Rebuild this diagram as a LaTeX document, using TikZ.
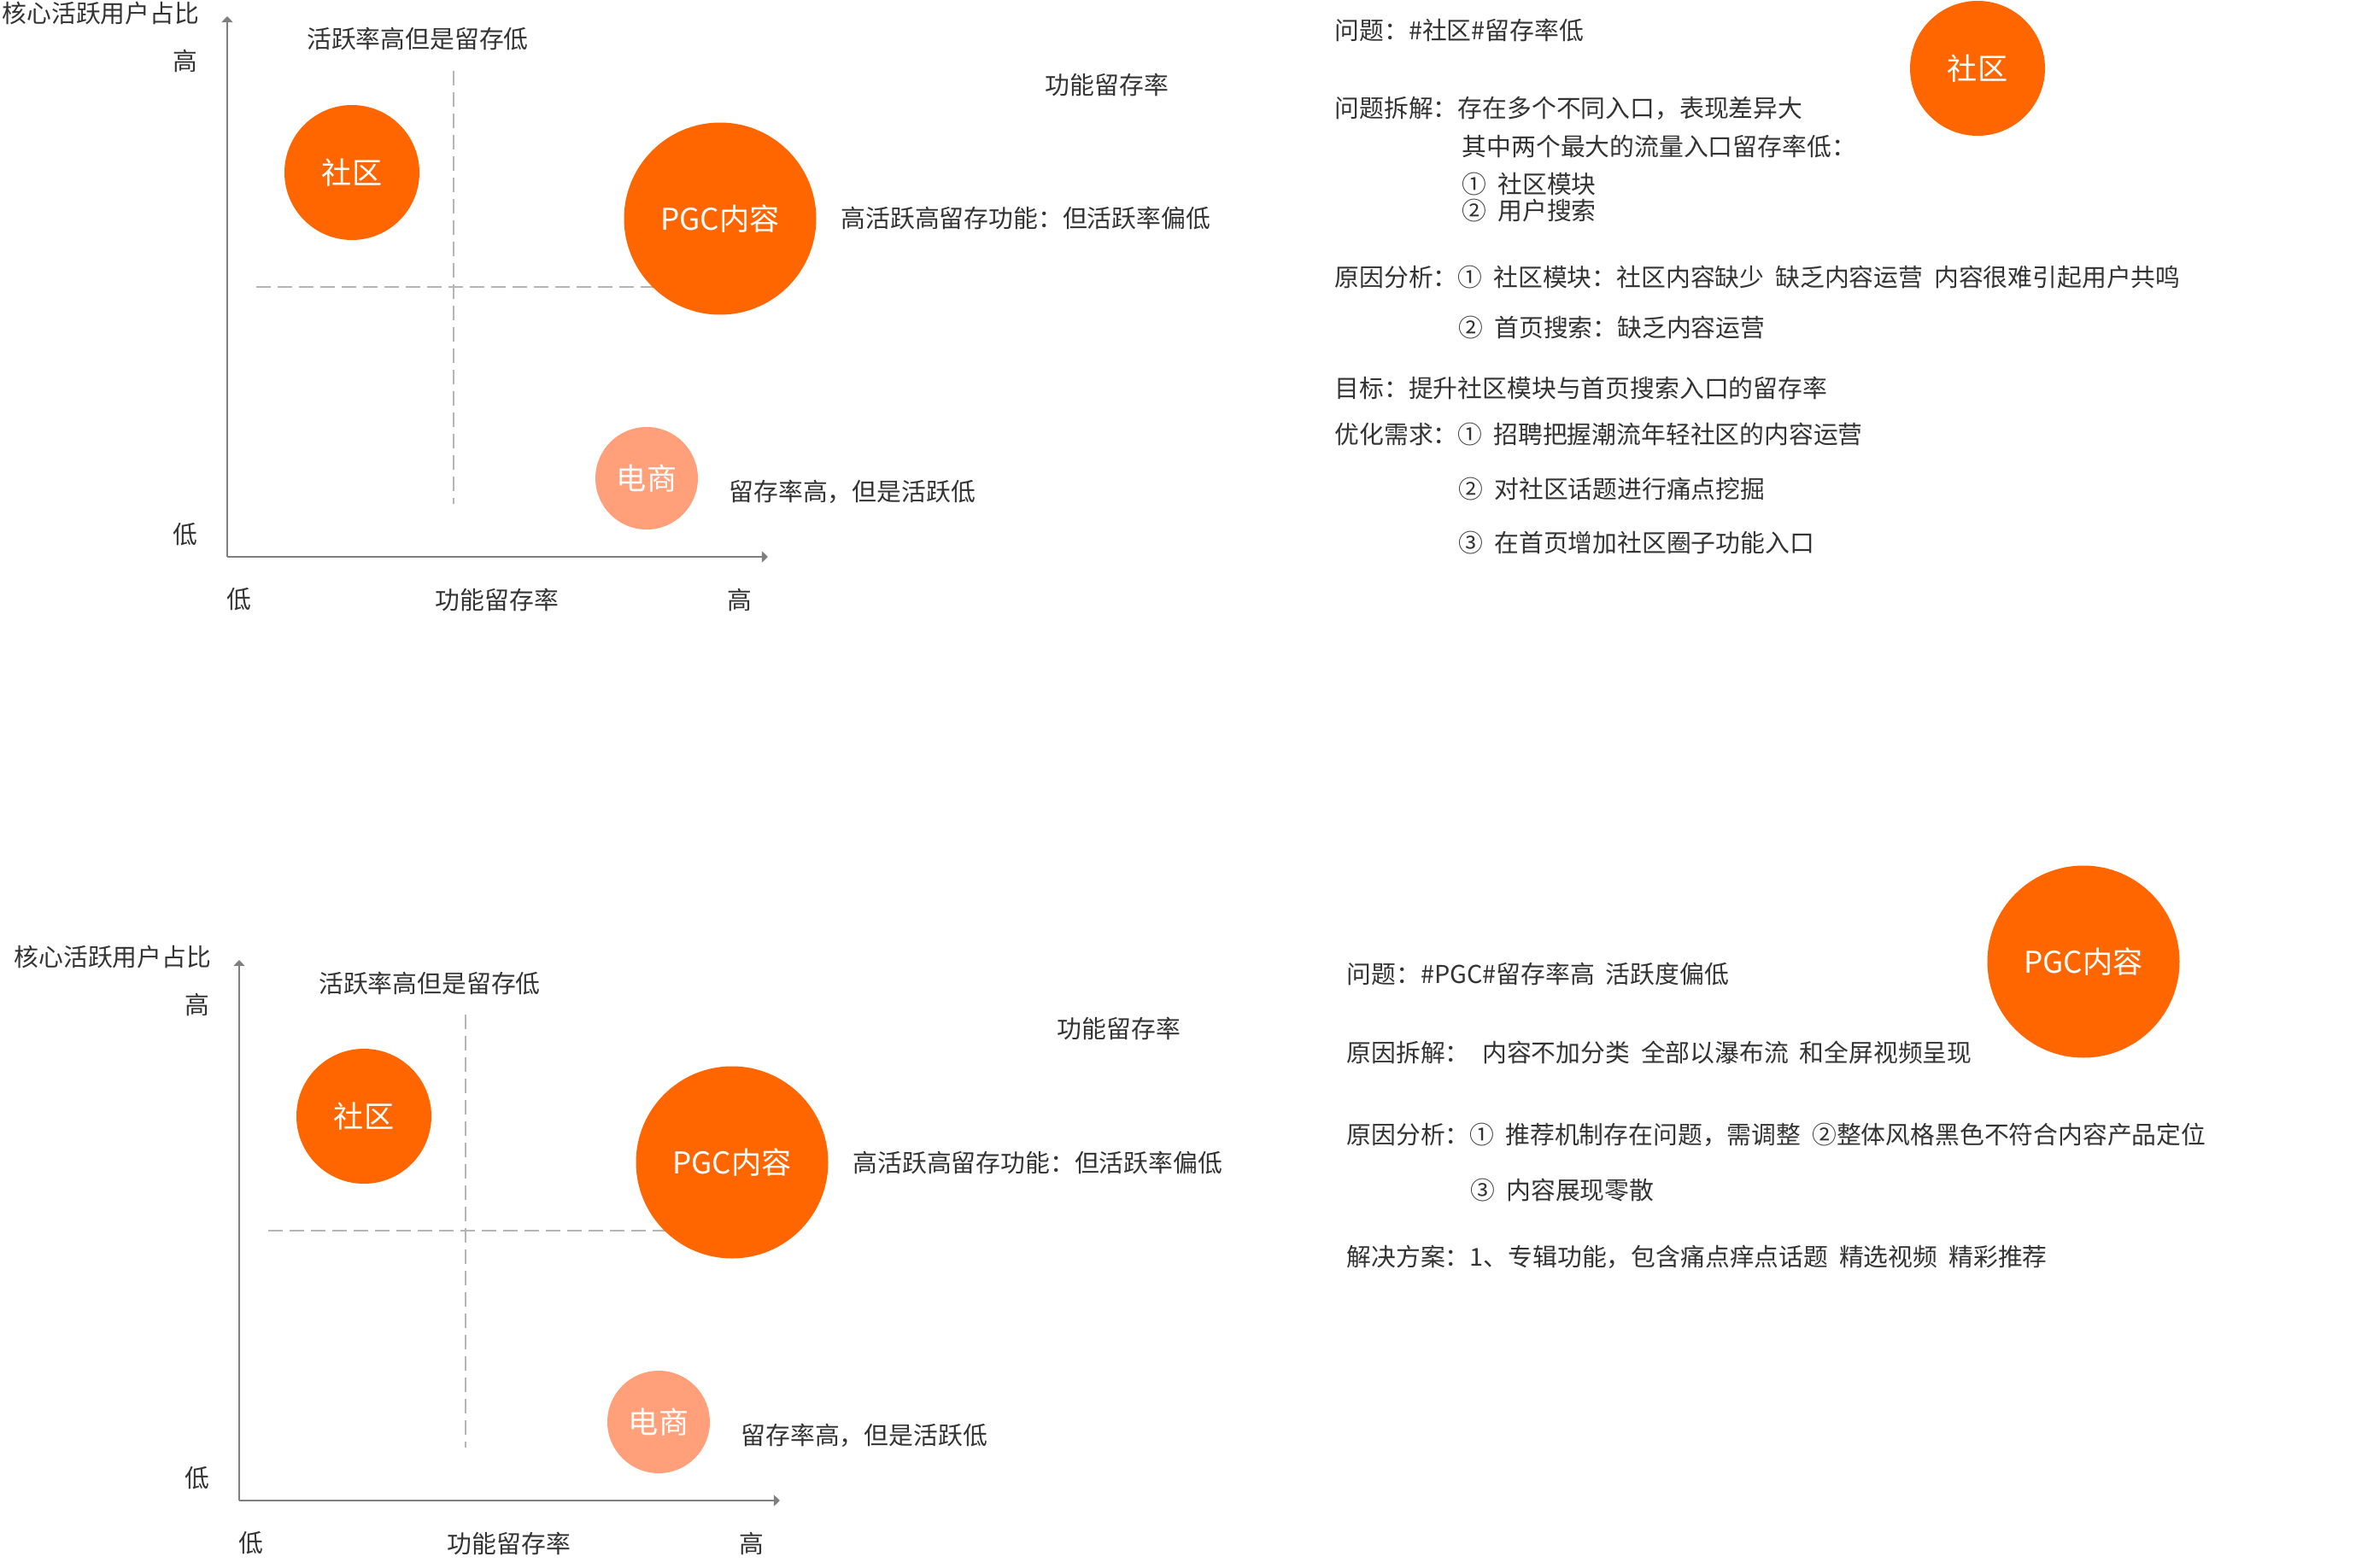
\documentclass[tikz,border=0pt]{standalone}
\usepackage{fontspec}
\setmainfont[WordSpace=2]{Noto Sans CJK SC}
\usetikzlibrary{arrows.meta}
\definecolor{hotorange}{HTML}{FF6600}
\definecolor{softsalmon}{HTML}{FFA07A}
\definecolor{axisgray}{HTML}{7F7F7F}
\definecolor{guidegray}{HTML}{B5B5B5}
\definecolor{inkgray}{HTML}{333333}
\begin{document}
\begin{tikzpicture}[font=\fontsize{8.2pt}{10pt}\selectfont, text=inkgray,
  bubble/.style={
    circle, inner sep=0pt,
    fill=#1,
    text=white,
    font=\fontsize{10pt}{12pt}\selectfont
  },
  txt/.style={anchor=west, inner sep=0pt},
  lbl/.style={inner sep=0pt},
  axis/.style={draw=axisgray, line width=0.4pt, -{Triangle[width=3.7pt,length=2pt]}},
  guide/.style={draw=guidegray, line width=0.45pt, dash pattern=on 0.17cm off 0.08cm}
]
  \useasboundingbox (0,0) rectangle (27.85,-18.36);
  % Two quadrant charts, the lower one shifted
  \foreach \ch/\dx/\dy in {a/0/0, b/0.14/-11.05} {
    \begin{scope}[shift={(\dx,\dy)}]
      \coordinate (\ch-o)    at (2.66,-6.52);
      \coordinate (\ch-ytop) at (2.66,-0.19);
      \coordinate (\ch-xend) at (8.99,-6.52);
      \coordinate (\ch-vt)   at (5.31,-0.83);
      \coordinate (\ch-vb)   at (5.31,-5.90);
      \coordinate (\ch-hl)   at (3.00,-3.36);
      \coordinate (\ch-hr)   at (7.67,-3.36);
      \draw[guide] (\ch-vt) -- (\ch-vb);
      \draw[guide] (\ch-hl) -- (\ch-hr);
      \draw[axis] (\ch-o) -- (\ch-ytop);
      \draw[axis] (\ch-o) -- (\ch-xend);
      \node[txt] (\ch-ytitle) at (0.02,-0.16) {核心活跃用户占比};
      \node[lbl] (\ch-yhi) at (2.17,-0.71) {高};
      \node[lbl] (\ch-ylo) at (2.17,-6.26) {低};
      \node[lbl] (\ch-xlo) at (2.80,-7.02) {低};
      \node[lbl] (\ch-xtitle) at (5.82,-7.02) {功能留存率};
      \node[lbl] (\ch-xhi) at (8.66,-7.02) {高};
      \node[lbl] (\ch-q1) at (4.89,-0.46) {活跃率高但是留存低};
      \node[bubble=hotorange, minimum size=1.58cm] (\ch-sq) at (4.12,-2.02) {社区};
      \node[bubble=hotorange, minimum size=2.25cm] (\ch-pgc) at (8.43,-2.56) {PGC内容};
      \node[bubble=softsalmon, minimum size=1.20cm] (\ch-ds) at (7.57,-5.60) {电商};
      % Annotations droite
      \node[txt] (\ch-n1) at (9.84,-2.56) {高活跃高留存功能：但活跃率偏低};
      \node[lbl] (\ch-n2) at (12.96,-0.99) {功能留存率};
      \node[txt] (\ch-n3) at (8.53,-5.76) {留存率高，但是活跃低};
    \end{scope}
  }
  % Notes: community
  \node[txt] (p1) at (15.62,-0.36) {问题：\#社区\#留存率低};
  \node[txt] (p2) at (15.62,-1.27) {问题拆解：存在多个不同入口，表现差异大};
  \node[txt] (p3) at (17.11,-1.72) {其中两个最大的流量入口留存率低：};
  \node[txt] (p4) at (17.11,-2.16) {① 社区模块};
  \node[txt] (p5) at (17.11,-2.47) {② 用户搜索};
  \node[txt] (p6) at (15.62,-3.25) {原因分析：① 社区模块：社区内容缺少 缺乏内容运营 内容很难引起用户共鸣};
  \node[txt] (p7) at (17.07,-3.84) {② 首页搜索：缺乏内容运营};
  \node[txt] (p8) at (15.62,-4.54) {目标：提升社区模块与首页搜索入口的留存率};
  \node[txt] (p9) at (15.62,-5.09) {优化需求：① 招聘把握潮流年轻社区的内容运营};
  \node[txt] (p10) at (17.07,-5.73) {② 对社区话题进行痛点挖掘};
  \node[txt] (p11) at (17.07,-6.36) {③ 在首页增加社区圈子功能入口};
  \node[bubble=hotorange, minimum size=1.58cm] (sqbig) at (23.15,-0.80) {社区};
  % Notes: PGC
  \node[txt] (g1) at (15.76,-11.40) {问题：\#PGC\#留存率高 活跃度偏低};
  \node[txt] (g2) at (15.76,-12.32) {原因拆解：\hspace{0.5em}内容不加分类 全部以瀑布流 和全屏视频呈现};
  \node[txt] (g3) at (15.76,-13.29) {原因分析：① 推荐机制存在问题，需调整 ②整体风格黑色不符合内容产品定位};
  \node[txt] (g4) at (17.21,-13.94) {③ 内容展现零散};
  \node[txt] (g5) at (15.76,-14.72) {解决方案：1、专辑功能，包含痛点痒点话题 精选视频 精彩推荐};
  \node[bubble=hotorange, minimum size=2.25cm] (pgcbig) at (24.39,-11.26) {PGC内容};
\end{tikzpicture}
\end{document}
